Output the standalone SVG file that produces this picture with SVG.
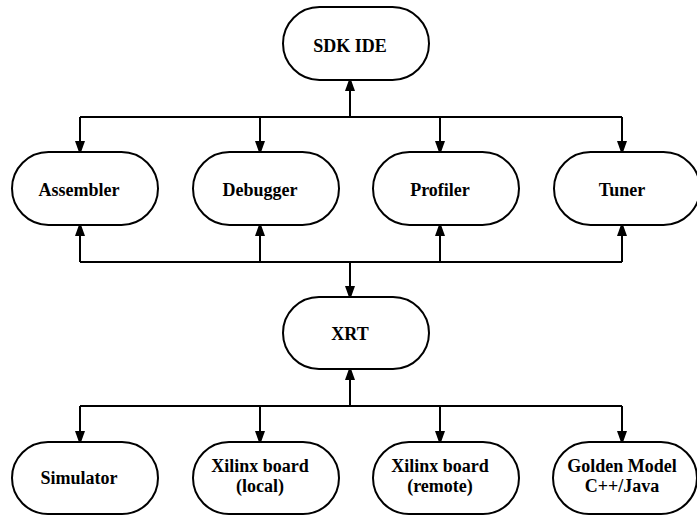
<svg xmlns="http://www.w3.org/2000/svg" width="697" height="517" viewBox="0 0 697 517">
<defs>
<style>
.box{fill:#fff;stroke:#000;stroke-width:2}
text{font-family:'Liberation Serif','Times New Roman',serif;font-weight:bold;font-size:18px;text-anchor:middle;fill:#000}
.c{fill:none;stroke:#000;stroke-width:2}
.a{fill:none;stroke:#000;stroke-width:2;marker-end:url(#ah)}
</style>
<marker id="ah" markerUnits="userSpaceOnUse" markerWidth="10" markerHeight="14" viewBox="0 0 10 14" refX="10" refY="5" orient="auto" overflow="visible">
<path d="M0,0 L14,5 L0,10 Z" fill="#000"/>
</marker>
</defs>
<rect width="697" height="517" fill="#fff"/>
<g id="connectors">
<path class="c" d="M80,117 H622"/>
<path class="a" d="M350,117 V81"/>
<path class="a" d="M80,117 V151"/>
<path class="a" d="M260,117 V151"/>
<path class="a" d="M440,117 V151"/>
<path class="a" d="M622,117 V151"/>
<path class="c" d="M80,262 H622"/>
<path class="a" d="M80,262 V226"/>
<path class="a" d="M260,262 V226"/>
<path class="a" d="M440,262 V226"/>
<path class="a" d="M622,262 V226"/>
<path class="a" d="M350,262 V296"/>
<path class="c" d="M80,406 H622"/>
<path class="a" d="M350,406 V370"/>
<path class="a" d="M80,406 V441"/>
<path class="a" d="M260,406 V441"/>
<path class="a" d="M440,406 V441"/>
<path class="a" d="M622,406 V441"/>
</g>
<g id="sdk-ide"><rect class="box" x="283" y="7" width="146" height="73" rx="36.5"/><text x="350" y="52">SDK IDE</text></g>
<g id="assembler"><rect class="box" x="12" y="152" width="146" height="73" rx="36.5"/><text x="79" y="196">Assembler</text></g>
<g id="debugger"><rect class="box" x="193" y="152" width="146" height="73" rx="36.5"/><text x="260" y="196">Debugger</text></g>
<g id="profiler"><rect class="box" x="373" y="152" width="146" height="73" rx="36.5"/><text x="440" y="196">Profiler</text></g>
<g id="tuner"><rect class="box" x="554" y="152" width="146" height="73" rx="36.5"/><text x="622" y="196">Tuner</text></g>
<g id="xrt"><rect class="box" x="283" y="297" width="146" height="72" rx="36"/><text x="350" y="340">XRT</text></g>
<g id="simulator"><rect class="box" x="12" y="442" width="146" height="72" rx="36"/><text x="79" y="484">Simulator</text></g>
<g id="xilinx-local"><rect class="box" x="193" y="442" width="146" height="72" rx="36"/><text x="260" y="472">Xilinx board</text><text x="260" y="492">(local)</text></g>
<g id="xilinx-remote"><rect class="box" x="373" y="442" width="146" height="72" rx="36"/><text x="440" y="472">Xilinx board</text><text x="440" y="492">(remote)</text></g>
<g id="golden-model"><rect class="box" x="553" y="442" width="144" height="72" rx="36"/><text x="622" y="472">Golden Model</text><text x="622" y="492">C++/Java</text></g>
</svg>
